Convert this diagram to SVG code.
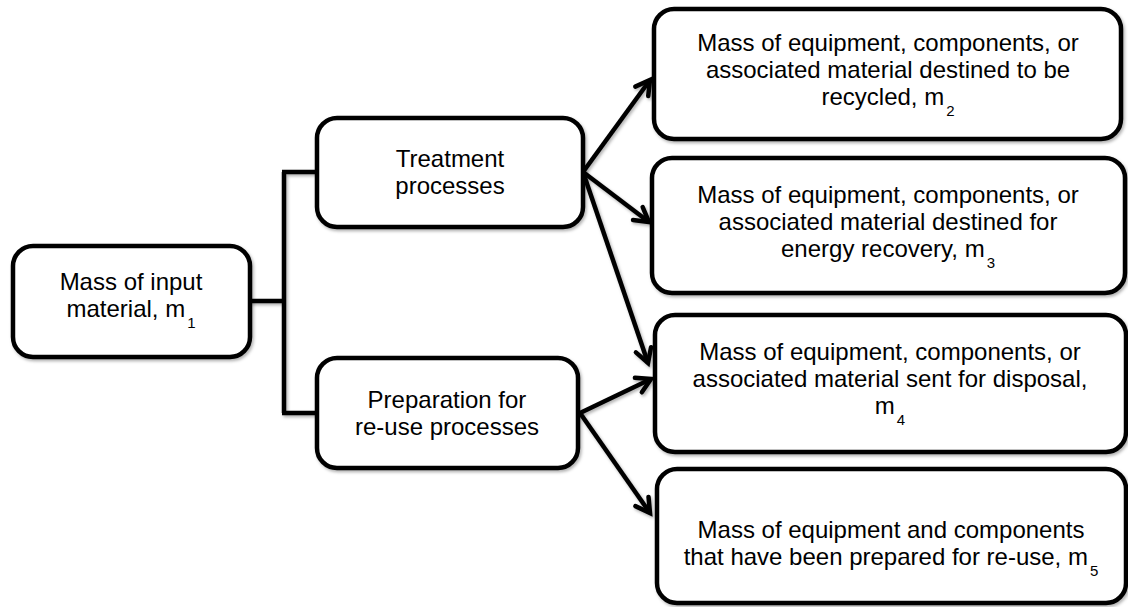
<svg xmlns="http://www.w3.org/2000/svg" width="1128" height="607" viewBox="0 0 1128 607">
<style>
.box{fill:#fff;stroke:#000;stroke-width:4.5;filter:url(#sh)}
.t{font-family:"Liberation Sans",Arial,sans-serif;font-size:24px;fill:#000;text-anchor:middle}
.sub{font-size:15px}
.con{fill:none;stroke:#000;stroke-width:4.5;filter:url(#sh)}
</style>
<defs>
<filter id="sh" x="-10%" y="-10%" width="120%" height="130%">
<feDropShadow dx="1.5" dy="2" stdDeviation="1.5" flood-color="#000" flood-opacity="0.3"/>
</filter>
<marker id="ah" markerUnits="userSpaceOnUse" viewBox="-20 -12 26 24" markerWidth="26" markerHeight="24" refX="0" refY="0" orient="auto">
<path d="M-14,-8 L0,0 L-14,8" fill="none" stroke="#000" stroke-width="4.5" stroke-linecap="round" stroke-linejoin="miter"/>
</marker>
</defs>
<g id="connectors">
<path class="con" d="M250,301 H284 M284,172 V413 M282,172 H317 M282,413 H317"/>
<path class="con" d="M583,172 L650,80" marker-end="url(#ah)"/>
<path class="con" d="M583,172 L649,222" marker-end="url(#ah)"/>
<path class="con" d="M583,172 L648,363" marker-end="url(#ah)"/>
<path class="con" d="M580,413 L651,379" marker-end="url(#ah)"/>
<path class="con" d="M580,413 L650,513" marker-end="url(#ah)"/>
</g>
<g id="n1">
<rect class="box" x="13" y="246" width="237" height="111" rx="20"/>
<text class="t" x="131" y="290">Mass of input</text>
<text class="t" x="131" y="317">material, m<tspan class="sub" dx="2" dy="11">1</tspan></text>
</g>
<g id="treatment">
<rect class="box" x="317" y="118" width="266" height="109" rx="20"/>
<text class="t" x="450" y="167">Treatment</text>
<text class="t" x="450" y="194">processes</text>
</g>
<g id="prep">
<rect class="box" x="317" y="358" width="261" height="110" rx="20"/>
<text class="t" x="447" y="408">Preparation for</text>
<text class="t" x="447" y="435">re-use processes</text>
</g>
<g id="m2">
<rect class="box" x="654" y="9" width="467" height="130" rx="20"/>
<text class="t" x="888" y="51">Mass of equipment, components, or</text>
<text class="t" x="888" y="78">associated material destined to be</text>
<text class="t" x="888" y="105">recycled, m<tspan class="sub" dx="2" dy="11">2</tspan></text>
</g>
<g id="m3">
<rect class="box" x="652" y="158" width="473" height="135" rx="20"/>
<text class="t" x="888" y="203">Mass of equipment, components, or</text>
<text class="t" x="888" y="230">associated material destined for</text>
<text class="t" x="888" y="257">energy recovery, m<tspan class="sub" dx="2" dy="11">3</tspan></text>
</g>
<g id="m4">
<rect class="box" x="655" y="315" width="471" height="137" rx="20"/>
<text class="t" x="890" y="360">Mass of equipment, components, or</text>
<text class="t" x="890" y="387">associated material sent for disposal,</text>
<text class="t" x="890" y="414">m<tspan class="sub" dx="2" dy="11">4</tspan></text>
</g>
<g id="m5">
<rect class="box" x="657" y="469" width="469" height="134" rx="20"/>
<text class="t" x="891" y="538">Mass of equipment and components</text>
<text class="t" x="891" y="565">that have been prepared for re-use, m<tspan class="sub" dx="2" dy="11">5</tspan></text>
</g>
</svg>
